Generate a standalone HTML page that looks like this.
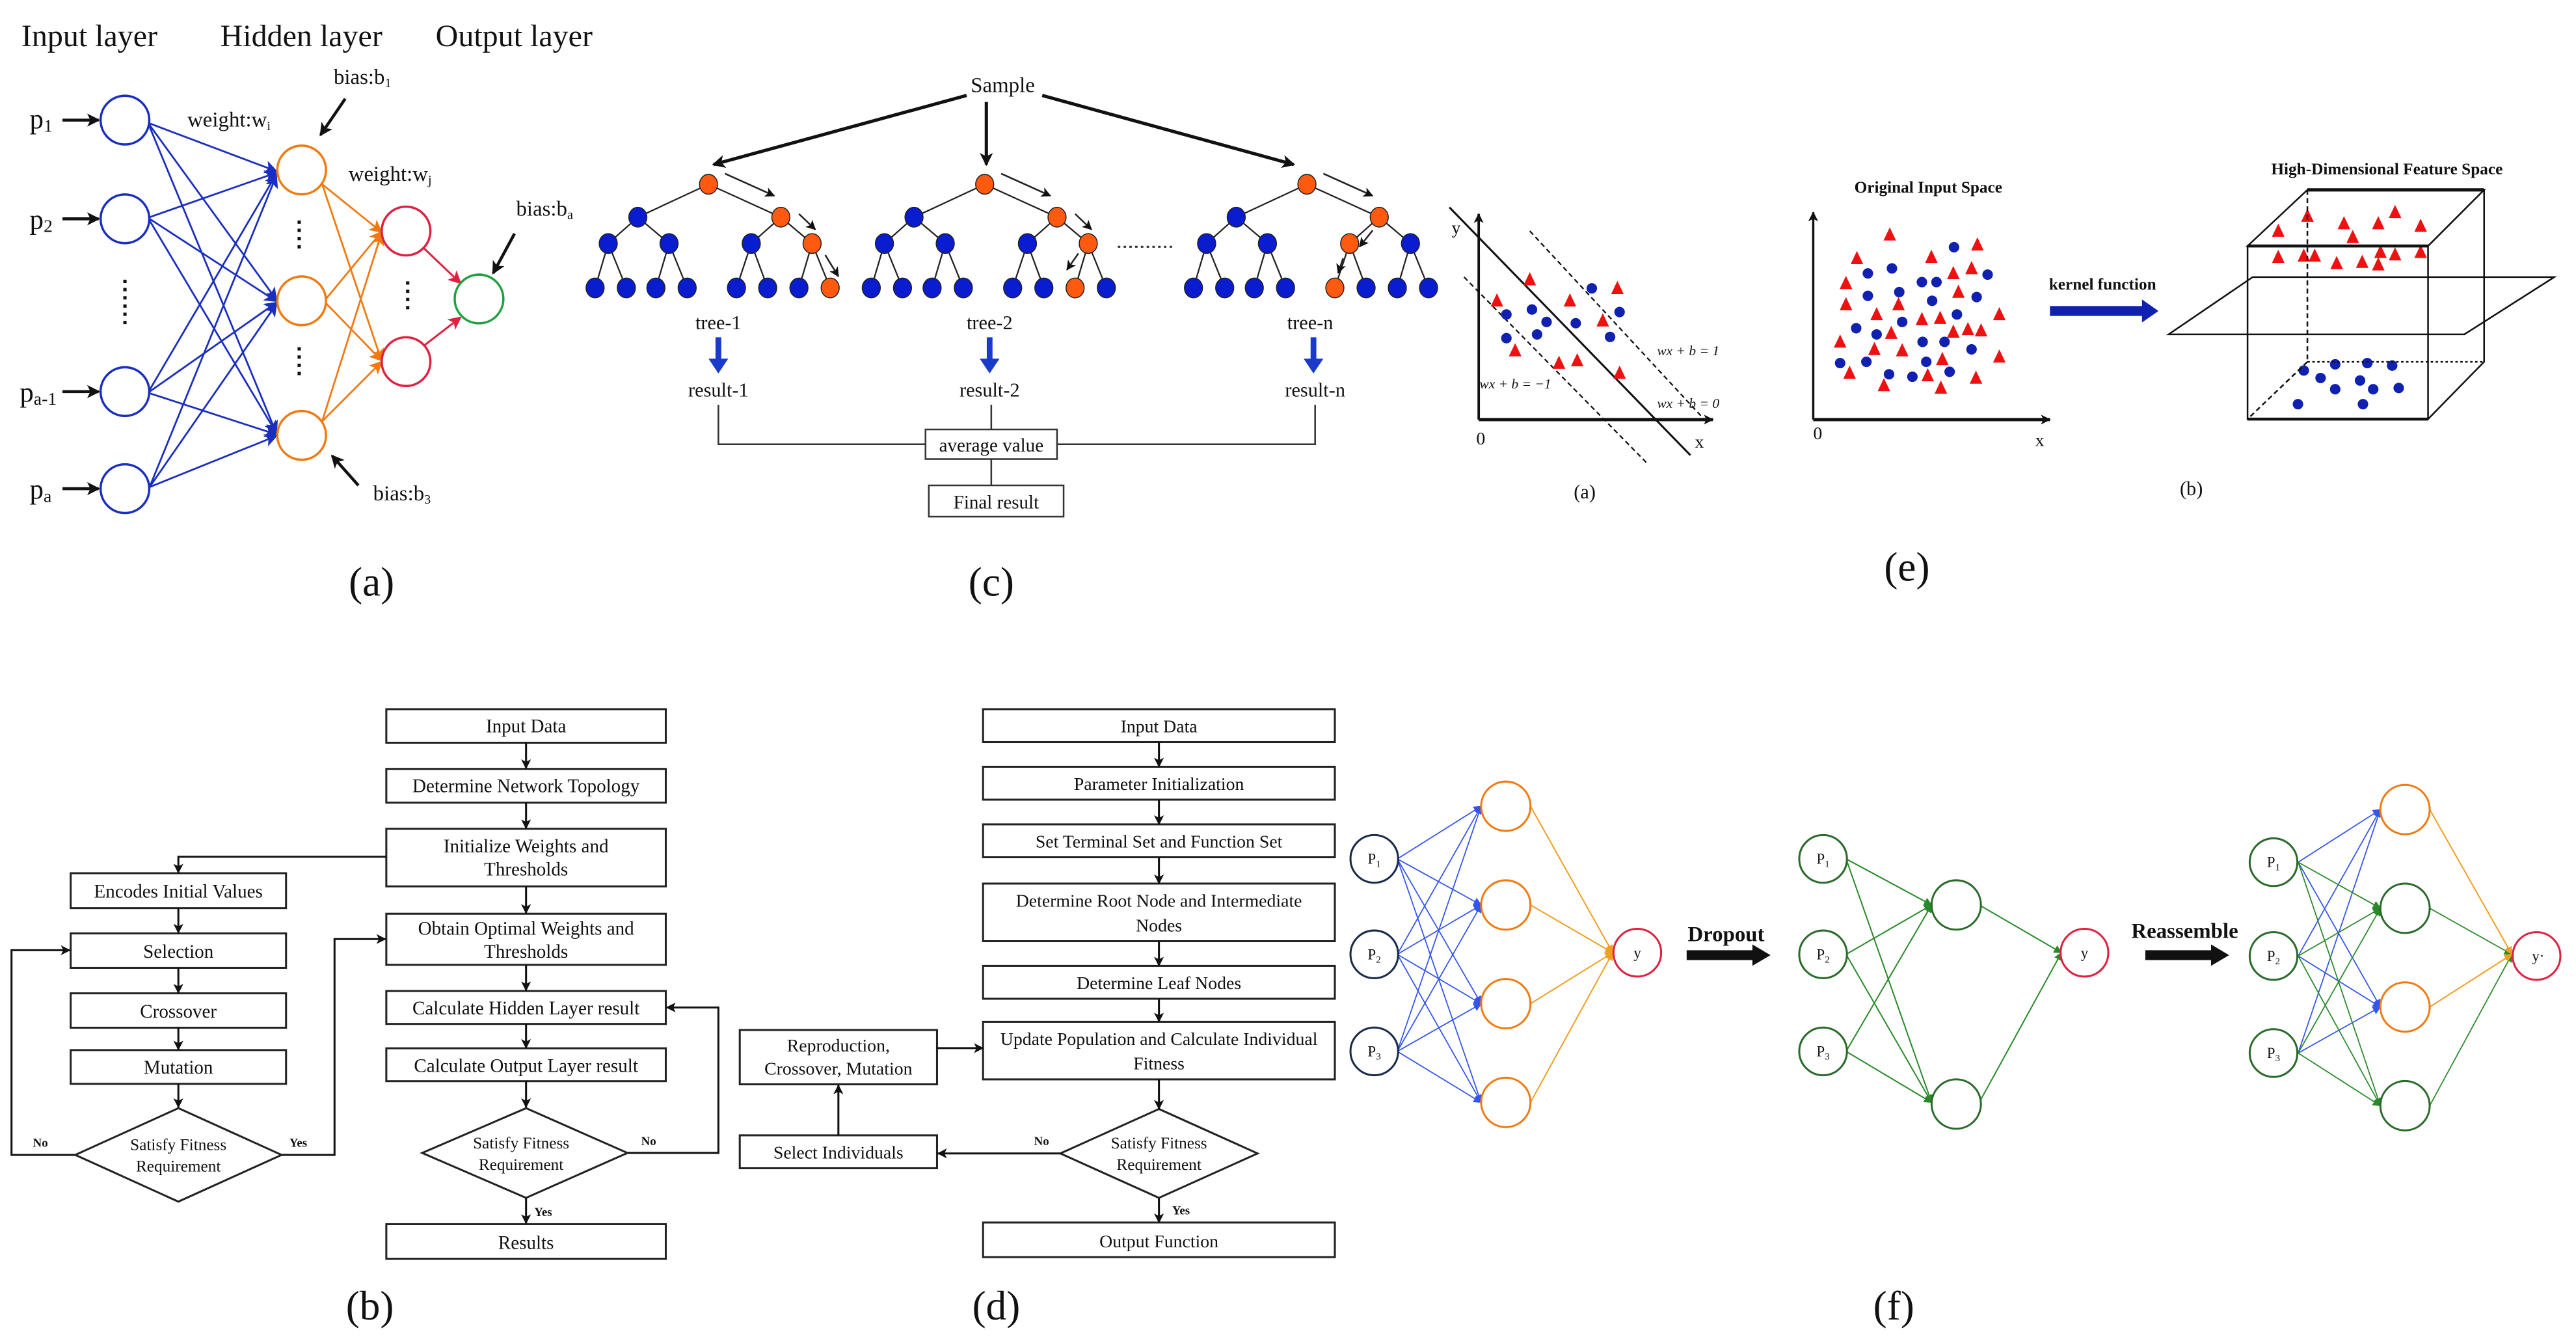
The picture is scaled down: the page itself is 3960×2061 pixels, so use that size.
<!DOCTYPE html>
<html><head><meta charset="utf-8"><style>
html,body{margin:0;padding:0;background:#fff;}
svg{display:block;}
text{font-family:"Liberation Serif",serif;fill:#111;}
</style></head><body>
<svg width="3960" height="2061" viewBox="0 0 1567 815" preserveAspectRatio="none" xmlns="http://www.w3.org/2000/svg">
<defs>
<marker id="mk" markerWidth="8" markerHeight="8" refX="7" refY="4" orient="auto" markerUnits="userSpaceOnUse"><path d="M0,0 L8,4 L0,8 L2,4Z" fill="#111"/></marker>
<marker id="mb" markerWidth="8" markerHeight="8" refX="7" refY="4" orient="auto" markerUnits="userSpaceOnUse"><path d="M0,0 L8,4 L0,8 L2,4Z" fill="#1a2fbf"/></marker>
<marker id="mo" markerWidth="8" markerHeight="8" refX="7" refY="4" orient="auto" markerUnits="userSpaceOnUse"><path d="M0,0 L8,4 L0,8 L2,4Z" fill="#f07a10"/></marker>
<marker id="mr" markerWidth="8" markerHeight="8" refX="7" refY="4" orient="auto" markerUnits="userSpaceOnUse"><path d="M0,0 L8,4 L0,8 L2,4Z" fill="#e02040"/></marker>
<marker id="ms" markerWidth="5" markerHeight="5" refX="4.5" refY="2.5" orient="auto" markerUnits="userSpaceOnUse"><path d="M0,0 L5,2.5 L0,5Z" fill="#3355ee"/></marker>
<marker id="mg" markerWidth="5" markerHeight="5" refX="4.5" refY="2.5" orient="auto" markerUnits="userSpaceOnUse"><path d="M0,0 L5,2.5 L0,5Z" fill="#2a8a2a"/></marker>
<marker id="msy" markerWidth="5" markerHeight="5" refX="4.5" refY="2.5" orient="auto" markerUnits="userSpaceOnUse"><path d="M0,0 L5,2.5 L0,5Z" fill="#f0a020"/></marker>
<marker id="mk2" markerWidth="6" markerHeight="6" refX="5.5" refY="3" orient="auto" markerUnits="userSpaceOnUse"><path d="M0,0 L6,3 L0,6 L1.5,3Z" fill="#111"/></marker>
<ellipse id="bd" cx="0" cy="0" rx="7.2" ry="21" fill="#1020b0"/>
<path id="rt" d="M0,-30 L8.6,23 L-8.6,23Z" fill="#ee1111"/>
</defs>

<!-- ===== Panel (a) NN ===== -->
<text x="13" y="28" font-size="19">Input layer</text>
<text x="134" y="28" font-size="19">Hidden layer</text>
<text x="265" y="28" font-size="19">Output layer</text>
<g font-size="17">
<text x="18" y="78">p<tspan font-size="11" dy="2">1</tspan></text>
<text x="18" y="139">p<tspan font-size="11" dy="2">2</tspan></text>
<text x="12" y="244">p<tspan font-size="11" dy="2">a-1</tspan></text>
<text x="18" y="303">p<tspan font-size="11" dy="2">a</tspan></text>
</g>
<g stroke="#111" stroke-width="1.8" marker-end="url(#mk)">
<line x1="38" y1="73" x2="60" y2="73"/><line x1="38" y1="133" x2="60" y2="133"/>
<line x1="38" y1="238" x2="60" y2="238"/><line x1="38" y1="297" x2="60" y2="297"/>
</g>
<g stroke="#1a2fbf" stroke-width="1.1" marker-end="url(#mb)">
<line x1="91" y1="75" x2="168" y2="104"/><line x1="91" y1="76" x2="168" y2="182"/><line x1="91" y1="77" x2="168" y2="263"/>
<line x1="91" y1="132" x2="168" y2="105"/><line x1="91" y1="133" x2="168" y2="183"/><line x1="91" y1="134" x2="168" y2="263"/>
<line x1="91" y1="237" x2="168" y2="106"/><line x1="91" y1="238" x2="168" y2="184"/><line x1="91" y1="239" x2="168" y2="264"/>
<line x1="91" y1="296" x2="168" y2="107"/><line x1="91" y1="296" x2="168" y2="185"/><line x1="91" y1="296" x2="168" y2="265"/>
</g>
<g stroke="#f07a10" stroke-width="1.1" marker-end="url(#mo)">
<line x1="196" y1="112" x2="232" y2="141"/><line x1="196" y1="112" x2="232" y2="219"/>
<line x1="198" y1="182" x2="232" y2="141"/><line x1="198" y1="184" x2="232" y2="219"/>
<line x1="196" y1="256" x2="232" y2="142"/><line x1="196" y1="256" x2="232" y2="220"/>
</g>
<g stroke="#e02040" stroke-width="1.2" marker-end="url(#mr)">
<line x1="258" y1="151" x2="280" y2="172"/><line x1="258" y1="210" x2="280" y2="193"/>
</g>
<g fill="#fff" stroke-width="1.4">
<g stroke="#1a2fbf"><circle cx="76" cy="73" r="14.8"/><circle cx="76" cy="133" r="14.8"/><circle cx="76" cy="238" r="14.8"/><circle cx="76" cy="297" r="14.8"/></g>
<g stroke="#f07a10"><circle cx="183.5" cy="103.3" r="14.8"/><circle cx="183.5" cy="182.8" r="14.8"/><circle cx="183.5" cy="264.6" r="14.8"/></g>
<g stroke="#e02040"><circle cx="247" cy="140.4" r="14.8"/><circle cx="247" cy="219.8" r="14.8"/></g>
<circle cx="291.4" cy="181.7" r="14.8" stroke="#20a040"/>
</g>
<g stroke="#111" stroke-width="2" stroke-dasharray="2,3">
<line x1="76" y1="170" x2="76" y2="197"/><line x1="182" y1="134" x2="182" y2="152"/><line x1="182" y1="211" x2="182" y2="229"/><line x1="248" y1="171" x2="248" y2="190"/>
</g>
<g font-size="13">
<text x="114" y="77">weight:w<tspan font-size="8" dy="2">i</tspan></text>
<text x="203" y="51">bias:b<tspan font-size="8" dy="2">1</tspan></text>
<text x="212" y="110">weight:w<tspan font-size="8" dy="2">j</tspan></text>
<text x="314" y="131">bias:b<tspan font-size="8" dy="2">a</tspan></text>
<text x="227" y="304">bias:b<tspan font-size="8" dy="2">3</tspan></text>
</g>
<g stroke="#111" stroke-width="1.8" marker-end="url(#mk)">
<line x1="210" y1="60" x2="195" y2="82"/><line x1="313" y1="142" x2="300" y2="166"/><line x1="218" y1="295" x2="202" y2="277"/>
</g>
<text x="226" y="362" font-size="25" text-anchor="middle">(a)</text>

<!-- ===== Panel (c) Random forest ===== -->
<text x="610" y="56" font-size="13" text-anchor="middle">Sample</text>
<g stroke="#111" stroke-width="2" marker-end="url(#mk)">
<line x1="588" y1="58" x2="434" y2="100"/><line x1="600" y1="62" x2="600" y2="100"/><line x1="634" y1="58" x2="787" y2="100"/>
</g>
<g id="trees">
<g transform="translate(431,0)">
<g stroke="#222" stroke-width="0.9">
<line x1="0" y1="112" x2="-43" y2="132"/><line x1="0" y1="112" x2="44" y2="132"/>
<line x1="-43" y1="132" x2="-61" y2="148"/><line x1="-43" y1="132" x2="-24" y2="148"/><line x1="44" y1="132" x2="26" y2="148"/><line x1="44" y1="132" x2="63" y2="148"/>
<line x1="-61" y1="148" x2="-69" y2="175"/><line x1="-61" y1="148" x2="-50" y2="175"/><line x1="-24" y1="148" x2="-32" y2="175"/><line x1="-24" y1="148" x2="-13" y2="175"/>
<line x1="26" y1="148" x2="17" y2="175"/><line x1="26" y1="148" x2="36" y2="175"/><line x1="63" y1="148" x2="55" y2="175"/><line x1="63" y1="148" x2="74" y2="175"/>
</g>
<g stroke="#222" stroke-width="0.6" fill="#0a1ccf">
<ellipse cx="0" cy="112" rx="5.5" ry="6" fill="#ff5a10"/><ellipse cx="-43" cy="132" rx="5.5" ry="6"/><ellipse cx="44" cy="132" rx="5.5" ry="6" fill="#ff5a10"/>
<ellipse cx="-61" cy="148" rx="5.5" ry="6"/><ellipse cx="-24" cy="148" rx="5.5" ry="6"/><ellipse cx="26" cy="148" rx="5.5" ry="6"/><ellipse cx="63" cy="148" rx="5.5" ry="6" fill="#ff5a10"/>
<ellipse cx="-69" cy="175" rx="5.5" ry="6"/><ellipse cx="-50" cy="175" rx="5.5" ry="6"/><ellipse cx="-32" cy="175" rx="5.5" ry="6"/><ellipse cx="-13" cy="175" rx="5.5" ry="6"/>
<ellipse cx="17" cy="175" rx="5.5" ry="6"/><ellipse cx="36" cy="175" rx="5.5" ry="6"/><ellipse cx="55" cy="175" rx="5.5" ry="6"/><ellipse cx="74" cy="175" rx="5.5" ry="6" fill="#ff5a10"/>
</g>
<g stroke="#222" stroke-width="1" marker-end="url(#mk2)"><line x1="10" y1="105.5" x2="40" y2="119"/><line x1="55" y1="130" x2="65" y2="139.5"/><line x1="71" y1="155" x2="79" y2="168"/></g>
</g>
<g transform="translate(599,0)">
<g stroke="#222" stroke-width="0.9">
<line x1="0" y1="112" x2="-43" y2="132"/><line x1="0" y1="112" x2="44" y2="132"/>
<line x1="-43" y1="132" x2="-61" y2="148"/><line x1="-43" y1="132" x2="-24" y2="148"/><line x1="44" y1="132" x2="26" y2="148"/><line x1="44" y1="132" x2="63" y2="148"/>
<line x1="-61" y1="148" x2="-69" y2="175"/><line x1="-61" y1="148" x2="-50" y2="175"/><line x1="-24" y1="148" x2="-32" y2="175"/><line x1="-24" y1="148" x2="-13" y2="175"/>
<line x1="26" y1="148" x2="17" y2="175"/><line x1="26" y1="148" x2="36" y2="175"/><line x1="63" y1="148" x2="55" y2="175"/><line x1="63" y1="148" x2="74" y2="175"/>
</g>
<g stroke="#222" stroke-width="0.6" fill="#0a1ccf">
<ellipse cx="0" cy="112" rx="5.5" ry="6" fill="#ff5a10"/><ellipse cx="-43" cy="132" rx="5.5" ry="6"/><ellipse cx="44" cy="132" rx="5.5" ry="6" fill="#ff5a10"/>
<ellipse cx="-61" cy="148" rx="5.5" ry="6"/><ellipse cx="-24" cy="148" rx="5.5" ry="6"/><ellipse cx="26" cy="148" rx="5.5" ry="6"/><ellipse cx="63" cy="148" rx="5.5" ry="6" fill="#ff5a10"/>
<ellipse cx="-69" cy="175" rx="5.5" ry="6"/><ellipse cx="-50" cy="175" rx="5.5" ry="6"/><ellipse cx="-32" cy="175" rx="5.5" ry="6"/><ellipse cx="-13" cy="175" rx="5.5" ry="6"/>
<ellipse cx="17" cy="175" rx="5.5" ry="6"/><ellipse cx="36" cy="175" rx="5.5" ry="6"/><ellipse cx="55" cy="175" rx="5.5" ry="6" fill="#ff5a10"/><ellipse cx="74" cy="175" rx="5.5" ry="6"/>
</g>
<g stroke="#222" stroke-width="1" marker-end="url(#mk2)"><line x1="10" y1="105.5" x2="40" y2="119"/><line x1="55" y1="130" x2="65" y2="139.5"/><line x1="57" y1="154" x2="50" y2="164"/></g>
</g>
<g transform="translate(795,0)">
<g stroke="#222" stroke-width="0.9">
<line x1="0" y1="112" x2="-43" y2="132"/><line x1="0" y1="112" x2="44" y2="132"/>
<line x1="-43" y1="132" x2="-61" y2="148"/><line x1="-43" y1="132" x2="-24" y2="148"/><line x1="44" y1="132" x2="26" y2="148"/><line x1="44" y1="132" x2="63" y2="148"/>
<line x1="-61" y1="148" x2="-69" y2="175"/><line x1="-61" y1="148" x2="-50" y2="175"/><line x1="-24" y1="148" x2="-32" y2="175"/><line x1="-24" y1="148" x2="-13" y2="175"/>
<line x1="26" y1="148" x2="17" y2="175"/><line x1="26" y1="148" x2="36" y2="175"/><line x1="63" y1="148" x2="55" y2="175"/><line x1="63" y1="148" x2="74" y2="175"/>
</g>
<g stroke="#222" stroke-width="0.6" fill="#0a1ccf">
<ellipse cx="0" cy="112" rx="5.5" ry="6" fill="#ff5a10"/><ellipse cx="-43" cy="132" rx="5.5" ry="6"/><ellipse cx="44" cy="132" rx="5.5" ry="6" fill="#ff5a10"/>
<ellipse cx="-61" cy="148" rx="5.5" ry="6"/><ellipse cx="-24" cy="148" rx="5.5" ry="6"/><ellipse cx="26" cy="148" rx="5.5" ry="6" fill="#ff5a10"/><ellipse cx="63" cy="148" rx="5.5" ry="6"/>
<ellipse cx="-69" cy="175" rx="5.5" ry="6"/><ellipse cx="-50" cy="175" rx="5.5" ry="6"/><ellipse cx="-32" cy="175" rx="5.5" ry="6"/><ellipse cx="-13" cy="175" rx="5.5" ry="6"/>
<ellipse cx="17" cy="175" rx="5.5" ry="6" fill="#ff5a10"/><ellipse cx="36" cy="175" rx="5.5" ry="6"/><ellipse cx="55" cy="175" rx="5.5" ry="6"/><ellipse cx="74" cy="175" rx="5.5" ry="6"/>
</g>
<g stroke="#222" stroke-width="1" marker-end="url(#mk2)"><line x1="10" y1="105.5" x2="40" y2="119"/><line x1="40" y1="140" x2="32" y2="150"/><line x1="22" y1="157" x2="19" y2="166"/></g>
</g>
</g>
<line x1="680" y1="150" x2="713" y2="150" stroke="#333" stroke-width="1.2" stroke-dasharray="1.5,2"/>
<g font-size="12" text-anchor="middle">
<text x="437" y="200">tree-1</text><text x="602" y="200">tree-2</text><text x="797" y="200">tree-n</text>
<text x="437" y="241">result-1</text><text x="602" y="241">result-2</text><text x="800" y="241">result-n</text>
</g>
<g stroke="#1a3acc" stroke-width="3.5">
<line x1="437" y1="205" x2="437" y2="219"/><line x1="602" y1="205" x2="602" y2="219"/><line x1="799" y1="205" x2="799" y2="219"/>
</g>
<g fill="#1a3acc"><path d="M431,218 L443,218 L437,227Z"/><path d="M596,218 L608,218 L602,227Z"/><path d="M793,218 L805,218 L799,227Z"/></g>
<g stroke="#333" stroke-width="1" fill="none">
<polyline points="437,246 437,270 563,270"/><polyline points="800,246 800,270 643,270"/>
<line x1="603" y1="246" x2="603" y2="261"/><line x1="603" y1="279" x2="603" y2="295"/>
<rect x="563" y="261" width="80" height="18" fill="#fff"/>
<rect x="565" y="295" width="82" height="19" fill="#fff"/>
</g>
<text x="603" y="274.5" font-size="11.5" text-anchor="middle">average value</text>
<text x="606" y="309" font-size="11.5" text-anchor="middle">Final result</text>
<text x="603" y="362" font-size="25" text-anchor="middle">(c)</text>

<!-- ===== SVM (a) ===== -->
<g stroke="#111" fill="none">
<line x1="899.5" y1="255" x2="899.5" y2="130" stroke-width="1.5" marker-end="url(#mk2)"/>
<line x1="899.5" y1="255" x2="1042" y2="255" stroke-width="2" marker-end="url(#mk2)"/>
<line x1="881.7" y1="126" x2="1028.3" y2="276.7" stroke-width="1.2"/>
<line x1="930.6" y1="140.4" x2="1039.4" y2="257.8" stroke-width="0.9" stroke-dasharray="3,2"/>
<line x1="890.6" y1="168.4" x2="1001.6" y2="281.2" stroke-width="0.9" stroke-dasharray="3,2"/>
</g>
<text x="883" y="142" font-size="11" font-family="Liberation Sans">y</text>
<text x="898" y="270" font-size="11" font-family="Liberation Sans">0</text>
<text x="1031" y="272" font-size="11" font-family="Liberation Sans">x</text>
<g font-size="8.5" font-style="italic">
<text x="1008" y="216">wx + b = 1</text>
<text x="900" y="236">wx + b = −1</text>
<text x="1008" y="248">wx + b = 0</text>
</g>
<g transform="translate(870.6,79.1) scale(0.4442,0.1514)">
<use href="#rt" x="135" y="600"/><use href="#rt" x="90" y="685"/><use href="#rt" x="190" y="685"/><use href="#rt" x="255" y="635"/><use href="#rt" x="115" y="885"/><use href="#rt" x="175" y="935"/><use href="#rt" x="200" y="925"/><use href="#rt" x="235" y="765"/><use href="#rt" x="258" y="975"/>
<use href="#bd" x="220" y="635"/><use href="#bd" x="138" y="720"/><use href="#bd" x="103" y="740"/><use href="#bd" x="158" y="770"/><use href="#bd" x="198" y="775"/><use href="#bd" x="258" y="730"/><use href="#bd" x="145" y="820"/><use href="#bd" x="103" y="835"/><use href="#bd" x="245" y="830"/>
<!-- original input space -->
<use href="#rt" x="628" y="420"/><use href="#rt" x="748" y="460"/><use href="#rt" x="583" y="515"/><use href="#rt" x="685" y="510"/><use href="#rt" x="740" y="555"/><use href="#rt" x="715" y="575"/><use href="#rt" x="568" y="615"/><use href="#rt" x="722" y="650"/><use href="#rt" x="568" y="700"/><use href="#rt" x="640" y="700"/><use href="#rt" x="610" y="740"/><use href="#rt" x="672" y="760"/><use href="#rt" x="697" y="755"/><use href="#rt" x="778" y="740"/><use href="#rt" x="630" y="815"/><use href="#rt" x="715" y="810"/><use href="#rt" x="735" y="800"/><use href="#rt" x="753" y="805"/><use href="#rt" x="560" y="850"/><use href="#rt" x="607" y="880"/><use href="#rt" x="645" y="885"/><use href="#rt" x="778" y="910"/><use href="#rt" x="700" y="920"/><use href="#rt" x="573" y="975"/><use href="#rt" x="680" y="985"/><use href="#rt" x="746" y="995"/><use href="#rt" x="620" y="1025"/><use href="#rt" x="698" y="1035"/>
<use href="#bd" x="716" y="470"/><use href="#bd" x="598" y="575"/><use href="#bd" x="631" y="555"/><use href="#bd" x="762" y="580"/><use href="#bd" x="672" y="610"/><use href="#bd" x="692" y="610"/><use href="#bd" x="598" y="665"/><use href="#bd" x="641" y="650"/><use href="#bd" x="686" y="685"/><use href="#bd" x="747" y="670"/><use href="#bd" x="720" y="740"/><use href="#bd" x="645" y="770"/><use href="#bd" x="582" y="795"/><use href="#bd" x="610" y="820"/><use href="#bd" x="673" y="850"/><use href="#bd" x="703" y="850"/><use href="#bd" x="740" y="880"/><use href="#bd" x="560" y="935"/><use href="#bd" x="596" y="930"/><use href="#bd" x="678" y="930"/><use href="#bd" x="710" y="970"/><use href="#bd" x="627" y="980"/><use href="#bd" x="659" y="990"/>
<!-- high-dim box -->
<use href="#rt" x="1200" y="345"/><use href="#rt" x="1250" y="375"/><use href="#rt" x="1297" y="375"/><use href="#rt" x="1320" y="330"/><use href="#rt" x="1355" y="385"/><use href="#rt" x="1160" y="405"/><use href="#rt" x="1262" y="430"/><use href="#rt" x="1160" y="510"/><use href="#rt" x="1195" y="505"/><use href="#rt" x="1210" y="505"/><use href="#rt" x="1240" y="535"/><use href="#rt" x="1275" y="530"/><use href="#rt" x="1297" y="540"/><use href="#rt" x="1300" y="490"/><use href="#rt" x="1320" y="500"/><use href="#rt" x="1355" y="490"/>
<use href="#bd" x="1195" y="965"/><use href="#bd" x="1238" y="940"/><use href="#bd" x="1282" y="935"/><use href="#bd" x="1316" y="945"/><use href="#bd" x="1218" y="995"/><use href="#bd" x="1272" y="1005"/><use href="#bd" x="1238" y="1040"/><use href="#bd" x="1290" y="1040"/><use href="#bd" x="1325" y="1035"/><use href="#bd" x="1187" y="1100"/><use href="#bd" x="1276" y="1100"/>
</g>
<text x="964" y="303" font-size="12" font-family="Liberation Sans" text-anchor="middle">(a)</text>

<!-- ===== Panel (e) ===== -->
<text x="1173" y="117" font-size="10" font-weight="bold" text-anchor="middle">Original Input Space</text>
<g stroke="#111" fill="none">
<line x1="1103" y1="255" x2="1103" y2="129" stroke-width="1.4" marker-end="url(#mk2)"/>
<line x1="1103" y1="255" x2="1247" y2="255" stroke-width="2" marker-end="url(#mk2)"/>
</g>
<text x="1103" y="267" font-size="11" font-family="Liberation Sans">0</text>
<text x="1238" y="271" font-size="11" font-family="Liberation Sans">x</text>
<text x="1279" y="176" font-size="10" font-weight="bold" text-anchor="middle">kernel function</text>
<rect x="1247" y="186" width="58" height="6" fill="#1020b0"/>
<path d="M1303,182 L1313,189 L1303,196Z" fill="#1020b0"/>
<text x="1452" y="106" font-size="10" font-weight="bold" text-anchor="middle">High-Dimensional Feature Space</text>
<g stroke="#111" fill="none" stroke-width="1">
<polygon points="1403.6,115.4 1511.1,115.4 1477,149.5 1367.2,149.5"/>
<line x1="1403.6" y1="115.4" x2="1511.1" y2="115.4" stroke-width="2"/>
<rect x="1367.2" y="149.5" width="109.8" height="105.2"/>
<line x1="1367.2" y1="149.5" x2="1477" y2="149.5" stroke-width="1.8"/>
<line x1="1367.2" y1="254.7" x2="1477" y2="254.7" stroke-width="1.8"/>
<polyline points="1511.1,115.4 1511.1,219.9 1477,254.7"/>
<line x1="1403.6" y1="115.4" x2="1403.6" y2="219.9" stroke-dasharray="3,2"/>
<line x1="1403.6" y1="219.9" x2="1511.1" y2="219.9" stroke-dasharray="1.5,1.5"/>
<line x1="1403.6" y1="219.9" x2="1367.2" y2="254.7" stroke-dasharray="3,2"/>
<polygon points="1370.3,168.4 1553.8,168.4 1499.1,203.2 1319.2,203.2" fill="none"/>
</g>
<text x="1333" y="301" font-size="12" font-family="Liberation Sans" text-anchor="middle">(b)</text>
<text x="1160" y="353" font-size="25" text-anchor="middle">(e)</text>

<!-- ===== Flowchart (b) ===== -->
<g stroke="#222" stroke-width="1.2" fill="#fff">
<rect x="235" y="431" width="170" height="20.4"/>
<rect x="235" y="467.3" width="170" height="20.5"/>
<rect x="235" y="503.7" width="170" height="35"/>
<rect x="235" y="555.3" width="170" height="31.1"/>
<rect x="235" y="602.3" width="170" height="20"/>
<rect x="235" y="637.1" width="170" height="20"/>
<polygon points="320,673.5 381.7,700.7 320,728 256.8,700.7"/>
<rect x="235" y="744" width="170" height="21"/>
<rect x="43" y="530.7" width="131" height="21.2"/>
<rect x="43" y="567.3" width="131" height="20.9"/>
<rect x="43" y="603.7" width="131" height="20.9"/>
<rect x="43" y="638.2" width="131" height="20.5"/>
<polygon points="108.5,673.5 171.3,701.9 108.5,730.3 45.8,701.9"/>
</g>
<g stroke="#111" stroke-width="1.2" fill="none" marker-end="url(#mk2)">
<line x1="320" y1="451.4" x2="320" y2="467"/><line x1="320" y1="487.8" x2="320" y2="503.5"/><line x1="320" y1="538.7" x2="320" y2="555"/>
<line x1="320" y1="586.4" x2="320" y2="602"/><line x1="320" y1="622.3" x2="320" y2="637"/><line x1="320" y1="657.1" x2="320" y2="673"/>
<line x1="320" y1="728" x2="320" y2="743.5"/>
<polyline points="235,520.7 108.5,520.7 108.5,530.5"/>
<line x1="108.5" y1="551.9" x2="108.5" y2="567"/><line x1="108.5" y1="588.2" x2="108.5" y2="603.5"/><line x1="108.5" y1="624.6" x2="108.5" y2="638"/><line x1="108.5" y1="658.7" x2="108.5" y2="673"/>
<polyline points="45.8,701.9 7,701.9 7,577.5 42.5,577.5"/>
<polyline points="171.3,701.9 203.5,701.9 203.5,570.7 234.5,570.7"/>
<polyline points="381.7,700.7 437,700.7 437,612.3 405.5,612.3"/>
</g>
<g font-size="11.5" text-anchor="middle">
<text x="320" y="445">Input Data</text>
<text x="320" y="481.5">Determine Network Topology</text>
<text x="320" y="518">Initialize Weights and</text><text x="320" y="532">Thresholds</text>
<text x="320" y="568">Obtain Optimal Weights and</text><text x="320" y="582">Thresholds</text>
<text x="320" y="616.5">Calculate Hidden Layer result</text>
<text x="320" y="651.5">Calculate Output Layer result</text>
<text x="320" y="759">Results</text>
<text x="108.5" y="545.5">Encodes Initial Values</text>
<text x="108.5" y="582">Selection</text>
<text x="108.5" y="618.5">Crossover</text>
<text x="108.5" y="652.5">Mutation</text>
</g>
<g font-size="10" text-anchor="middle">
<text x="317" y="698">Satisfy Fitness</text><text x="317" y="711">Requirement</text>
<text x="108.5" y="699">Satisfy Fitness</text><text x="108.5" y="712">Requirement</text>
</g>
<g font-size="7.5" font-weight="bold">
<text x="20" y="697">No</text><text x="176" y="697">Yes</text><text x="390" y="696">No</text><text x="325" y="739">Yes</text>
</g>
<text x="225" y="802" font-size="25" text-anchor="middle">(b)</text>

<!-- ===== Flowchart (d) ===== -->
<g stroke="#222" stroke-width="1.2" fill="#fff">
<rect x="598" y="431" width="214" height="20"/>
<rect x="598" y="466" width="214" height="20"/>
<rect x="598" y="501" width="214" height="20"/>
<rect x="598" y="537" width="214" height="35"/>
<rect x="598" y="587" width="214" height="20"/>
<rect x="598" y="621" width="214" height="35"/>
<polygon points="705,674 765,701 705,728 645,701"/>
<rect x="598" y="743" width="214" height="21"/>
<rect x="450" y="626" width="120" height="33"/>
<rect x="450" y="690" width="120" height="20"/>
</g>
<g stroke="#111" stroke-width="1.2" fill="none" marker-end="url(#mk2)">
<line x1="705" y1="451" x2="705" y2="466"/><line x1="705" y1="486" x2="705" y2="501"/><line x1="705" y1="521" x2="705" y2="537"/>
<line x1="705" y1="572" x2="705" y2="587"/><line x1="705" y1="607" x2="705" y2="621"/><line x1="705" y1="656" x2="705" y2="674"/>
<line x1="705" y1="728" x2="705" y2="743"/>
<line x1="570" y1="637" x2="598" y2="637"/>
<line x1="645" y1="701" x2="570.5" y2="701"/>
<line x1="510" y1="690" x2="510" y2="659.5"/>
</g>
<g font-size="11" text-anchor="middle">
<text x="705" y="445">Input Data</text>
<text x="705" y="480">Parameter Initialization</text>
<text x="705" y="515">Set Terminal Set and Function Set</text>
<text x="705" y="551">Determine Root Node and Intermediate</text><text x="705" y="566">Nodes</text>
<text x="705" y="601">Determine Leaf Nodes</text>
<text x="705" y="635">Update Population and Calculate Individual</text><text x="705" y="650">Fitness</text>
<text x="705" y="758">Output Function</text>
<text x="510" y="639">Reproduction,</text><text x="510" y="653">Crossover, Mutation</text>
<text x="510" y="704">Select Individuals</text>
</g>
<g font-size="10" text-anchor="middle"><text x="705" y="698">Satisfy Fitness</text><text x="705" y="711">Requirement</text></g>
<g font-size="7.5" font-weight="bold"><text x="629" y="696">No</text><text x="713" y="738">Yes</text></g>
<text x="606" y="802" font-size="25" text-anchor="middle">(d)</text>

<!-- ===== Panel (f) dropout ===== -->
<g stroke="#3355ee" stroke-width="0.7" marker-end="url(#ms)">
<line x1="850" y1="522" x2="901" y2="490"/><line x1="850" y1="522" x2="901" y2="550"/><line x1="850" y1="522" x2="901" y2="610"/><line x1="850" y1="522" x2="901" y2="670"/>
<line x1="850" y1="580" x2="901" y2="490"/><line x1="850" y1="580" x2="901" y2="550"/><line x1="850" y1="580" x2="901" y2="610"/><line x1="850" y1="580" x2="901" y2="670"/>
<line x1="850" y1="639" x2="901" y2="490"/><line x1="850" y1="639" x2="901" y2="550"/><line x1="850" y1="639" x2="901" y2="610"/><line x1="850" y1="639" x2="901" y2="670"/>
</g>
<g stroke="#f0a020" stroke-width="0.8" marker-end="url(#msy)">
<line x1="931" y1="490" x2="981" y2="579"/><line x1="931" y1="550" x2="981" y2="579"/><line x1="931" y1="610" x2="981" y2="579"/><line x1="931" y1="670" x2="981" y2="579"/>
</g>
<g fill="#fff" stroke-width="1.2">
<g stroke="#1a2a4a"><circle cx="836" cy="522" r="14.5"/><circle cx="836" cy="580" r="14.5"/><circle cx="836" cy="639" r="14.5"/></g>
<g stroke="#f07a10"><circle cx="916" cy="490" r="15"/><circle cx="916" cy="550" r="15"/><circle cx="916" cy="610" r="15"/><circle cx="916" cy="670" r="15"/></g>
<circle cx="996" cy="579" r="14.5" stroke="#e02040"/>
</g>
<g stroke="#2a8a2a" stroke-width="0.8" marker-end="url(#mg)">
<line x1="1123" y1="522" x2="1175" y2="550"/><line x1="1123" y1="522" x2="1175" y2="670"/>
<line x1="1123" y1="580" x2="1175" y2="550"/><line x1="1123" y1="580" x2="1175" y2="670"/>
<line x1="1123" y1="639" x2="1175" y2="550"/><line x1="1123" y1="639" x2="1175" y2="670"/>
<line x1="1204" y1="550" x2="1254" y2="579"/><line x1="1204" y1="670" x2="1254" y2="579"/>
</g>
<g fill="#fff" stroke-width="1.2">
<g stroke="#2a6a2a"><circle cx="1109" cy="522" r="14.5"/><circle cx="1109" cy="580" r="14.5"/><circle cx="1109" cy="639" r="14.5"/><circle cx="1190" cy="550" r="15"/><circle cx="1190" cy="671" r="15"/></g>
<circle cx="1268" cy="579" r="14.5" stroke="#e02040"/>
</g>
<g stroke="#3355ee" stroke-width="0.7" marker-end="url(#ms)">
<line x1="1398" y1="524" x2="1448" y2="492"/><line x1="1398" y1="524" x2="1448" y2="612"/>
<line x1="1398" y1="581" x2="1448" y2="492"/><line x1="1398" y1="581" x2="1448" y2="612"/>
<line x1="1398" y1="640" x2="1448" y2="492"/><line x1="1398" y1="640" x2="1448" y2="612"/>
</g>
<g stroke="#2a8a2a" stroke-width="0.7" marker-end="url(#mg)">
<line x1="1398" y1="524" x2="1448" y2="552"/><line x1="1398" y1="524" x2="1448" y2="672"/>
<line x1="1398" y1="581" x2="1448" y2="552"/><line x1="1398" y1="581" x2="1448" y2="672"/>
<line x1="1398" y1="640" x2="1448" y2="552"/><line x1="1398" y1="640" x2="1448" y2="672"/>
<line x1="1478" y1="552" x2="1528" y2="580"/><line x1="1478" y1="672" x2="1528" y2="580"/>
</g>
<g stroke="#f0a020" stroke-width="0.8" marker-end="url(#msy)">
<line x1="1478" y1="492" x2="1528" y2="580"/><line x1="1478" y1="612" x2="1528" y2="580"/>
</g>
<g fill="#fff" stroke-width="1.2">
<g stroke="#2a6a2a"><circle cx="1383" cy="524" r="14.5"/><circle cx="1383" cy="581" r="14.5"/><circle cx="1383" cy="640" r="14.5"/><circle cx="1463" cy="552" r="15"/><circle cx="1463" cy="672" r="15"/></g>
<g stroke="#f07a10"><circle cx="1463" cy="492" r="15"/><circle cx="1463" cy="612" r="15"/></g>
<circle cx="1543" cy="581" r="14.5" stroke="#e02040"/>
</g>
<g font-size="9" text-anchor="middle">
<text x="836" y="525">P<tspan font-size="6" dy="2">1</tspan></text><text x="836" y="583">P<tspan font-size="6" dy="2">2</tspan></text><text x="836" y="642">P<tspan font-size="6" dy="2">3</tspan></text>
<text x="1109" y="525">P<tspan font-size="6" dy="2">1</tspan></text><text x="1109" y="583">P<tspan font-size="6" dy="2">2</tspan></text><text x="1109" y="642">P<tspan font-size="6" dy="2">3</tspan></text>
<text x="1383" y="527">P<tspan font-size="6" dy="2">1</tspan></text><text x="1383" y="584">P<tspan font-size="6" dy="2">2</tspan></text><text x="1383" y="643">P<tspan font-size="6" dy="2">3</tspan></text>
<text x="996" y="582">y</text><text x="1268" y="582">y</text><text x="1544" y="584">y·</text>
</g>
<text x="1050" y="572" font-size="13" font-weight="bold" text-anchor="middle">Dropout</text>
<rect x="1026" y="577.5" width="42" height="6" fill="#111"/><path d="M1066,574 L1077,580.5 L1066,587Z" fill="#111"/>
<text x="1329" y="570" font-size="13" font-weight="bold" text-anchor="middle">Reassemble</text>
<rect x="1305" y="577.5" width="42" height="6" fill="#111"/><path d="M1345,574 L1356,580.5 L1345,587Z" fill="#111"/>
<text x="1152" y="802" font-size="25" text-anchor="middle">(f)</text>
</svg>
</body></html>
